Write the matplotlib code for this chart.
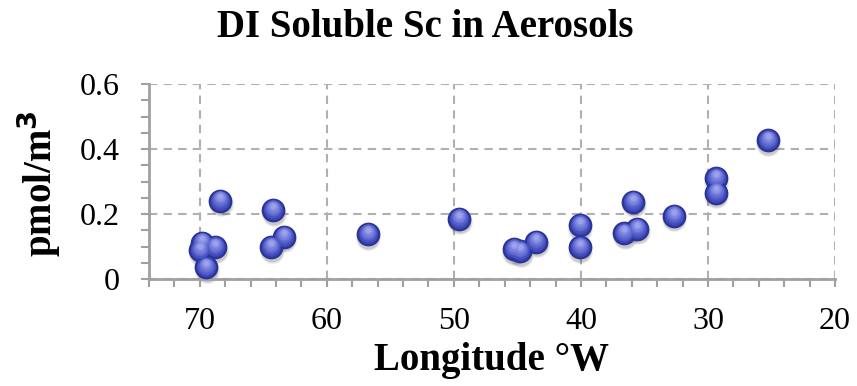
import matplotlib
matplotlib.use("Agg")
import matplotlib.pyplot as plt
import matplotlib.transforms as mtransforms
from matplotlib.ticker import MultipleLocator

# Longitude (°W) and DI-soluble scandium in aerosols (pmol/m3)
longitude = [68.4, 69.8, 70.0, 68.8, 69.5, 64.2, 64.4, 63.4, 56.8,
             49.6, 45.3, 44.8, 43.5, 40.1, 40.1, 36.6, 35.6, 35.9,
             32.7, 29.4, 29.4, 25.3]
sc_pmol = [0.241, 0.112, 0.089, 0.098, 0.036, 0.212, 0.098, 0.130, 0.138,
           0.185, 0.092, 0.086, 0.115, 0.166, 0.098, 0.141, 0.154, 0.237,
           0.194, 0.310, 0.266, 0.427]

x_ticks = [70, 60, 50, 40, 30, 20]
y_ticks = [0, 0.2, 0.4, 0.6]
y_tick_labels = ["0", "0.2", "0.4", "0.6"]

serif = ["Liberation Serif", "DejaVu Serif"]
axis_grey = "#a0a0a0"

W, H = 857, 386
fig = plt.figure(figsize=(W / 100, H / 100), dpi=100)
ax = fig.add_axes([149 / W, 1 - 279 / H, (835 - 149) / W, (279 - 84) / H])

ax.set_xlim(74, 20)
ax.set_ylim(0, 0.6)

# grid: dashed lines at major positions, including the top/right edges
ax.set_xticks(x_ticks)
ax.set_yticks(y_ticks)
ax.set_yticklabels(y_tick_labels)
ax.xaxis.set_minor_locator(MultipleLocator(2))
ax.yaxis.set_minor_locator(MultipleLocator(0.05))
ax.grid(True, which="major", linestyle=(0, (4, 3)), color="#b0b0b0", linewidth=1.5, zorder=0)
ax.set_axisbelow(True)

for side in ("top", "right"):
    ax.spines[side].set_visible(False)
for side in ("left", "bottom"):
    ax.spines[side].set_color(axis_grey)
    ax.spines[side].set_linewidth(2.0)

ax.tick_params(axis="both", which="both", direction="out", color=axis_grey,
               width=1.5, length=6)
ax.tick_params(axis="x", which="major", pad=14)
ax.tick_params(axis="y", which="major", pad=15)
for lab in ax.get_xticklabels() + ax.get_yticklabels():
    lab.set_fontfamily(serif)
    lab.set_fontsize(23)

# soft shadow under each sphere
shadow = mtransforms.offset_copy(ax.transData, fig=fig, x=0.5, y=-2.5, units="points")
for grow, alpha in [(330, 0.08), (280, 0.12), (245, 0.15)]:
    ax.scatter(longitude, sc_pmol, s=grow, color="#555555", alpha=alpha,
               linewidths=0, transform=shadow, zorder=2, clip_on=False)

# sphere-shaded markers: dark base, then lighter layers offset upward
ax.scatter(longitude, sc_pmol, s=240, color="#3c44b4", edgecolors="#2b3597",
           linewidths=1.6, zorder=3, clip_on=False)
layers = [(178, "#4650c0", 0.6), (136, "#5560ca", 1.2), (100, "#6670d4", 1.8),
          (66, "#7880dc", 2.3), (36, "#8a92e4", 2.8), (15, "#9ba2ea", 3.1)]
for size, col, dy in layers:
    tr = mtransforms.offset_copy(ax.transData, fig=fig, x=0, y=dy, units="points")
    ax.scatter(longitude, sc_pmol, s=size, color=col, linewidths=0,
               transform=tr, zorder=4, clip_on=False)

fig.text(492 / W, 1 - 370 / H, "Longitude °W", ha="center", va="baseline",
         fontfamily=serif, fontsize=28, fontweight="bold")
fig.text(39 / W, 1 - 184 / H, "pmol/m$\\mathbf{^3}$", ha="center", va="center",
         rotation=90, fontfamily=serif, fontsize=28, fontweight="bold")
fig.text(425 / W, 1 - 37 / H, "DI Soluble Sc in Aerosols", ha="center", va="baseline",
         fontfamily=serif, fontsize=28, fontweight="bold")

fig.savefig("out.png", dpi=100)
